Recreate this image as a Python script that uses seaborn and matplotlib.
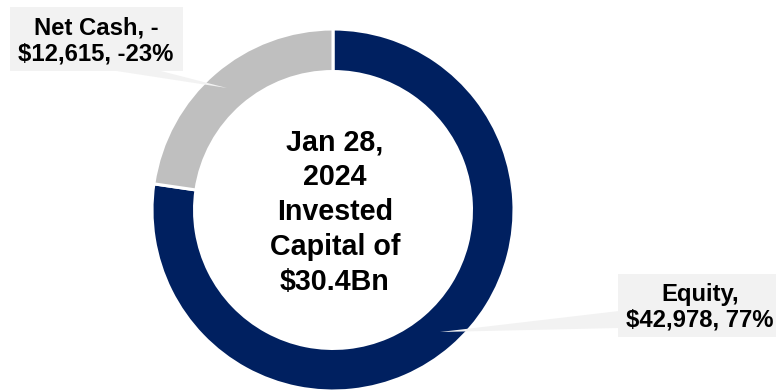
import matplotlib
matplotlib.use("Agg")
import matplotlib.pyplot as plt
from matplotlib.patches import Polygon
import seaborn as sns

# Invested capital components ($M)
categories = ["Equity", "Net Cash"]
values = [42978, -12615]
pct_labels = ["77%", "-23%"]
center_title = "Jan 28,\n2024\nInvested\nCapital of\n$30.4Bn"

navy = "#002060"
grey = "#BFBFBF"
box = "#F2F2F2"

sns.set_theme(style="white")
plt.rcParams["font.family"] = ["Liberation Sans", "DejaVu Sans"]
plt.rcParams["text.color"] = "black"

W, H, dpi = 776, 390, 100
fig = plt.figure(figsize=(W / dpi, H / dpi), dpi=dpi)
ax = fig.add_axes([0, 0, 1, 1])

# one data unit = ring radius in pixels
R = 181.0
cx, cy = 333.0, 210.0


def px(x, y):
    return ((x - cx) / R, (cy - y) / R)


sizes = [abs(v) for v in values]
ax.pie(sizes, colors=[navy, grey], startangle=90, counterclock=False,
       radius=1.0,
       wedgeprops=dict(width=0.235, edgecolor="white", linewidth=2.2))

ax.set_xlim(-cx / R, (W - cx) / R)
ax.set_ylim(-(H - cy) / R, cy / R)
ax.set_aspect("equal")
ax.axis("off")

ax.text(*px(335, 212), center_title, ha="center", va="center",
        fontsize=20.6, fontweight="bold", color="black", linespacing=1.31)


def money(v):
    return f"${abs(v):,}"


# Net Cash callout
nc_box = [10, 7, 183, 71]
ax.add_patch(Polygon([px(110, 70), px(157, 70), px(227, 88)],
                     closed=True, facecolor=box, edgecolor="none", zorder=3))
x0, y0 = px(nc_box[0], nc_box[3])
x1, y1 = px(nc_box[2], nc_box[1])
ax.add_patch(plt.Rectangle((x0, y0), x1 - x0, y1 - y0, facecolor=box,
                           edgecolor="none", zorder=3))
ax.text(*px(96, 41), f"{categories[1]}, -\n{money(values[1])}, {pct_labels[1]}",
        ha="center", va="center", fontsize=17.2, fontweight="bold",
        color="black", linespacing=1.12, zorder=4)

# Equity callout
eq_box = [618, 274, 790, 337]
ax.add_patch(Polygon([px(619, 311), px(619, 328), px(440, 332)],
                     closed=True, facecolor=box, edgecolor="none", zorder=3))
x0, y0 = px(eq_box[0], eq_box[3])
x1, y1 = px(eq_box[2], eq_box[1])
ax.add_patch(plt.Rectangle((x0, y0), x1 - x0, y1 - y0, facecolor=box,
                           edgecolor="none", zorder=3))
ax.text(*px(700, 307), f"{categories[0]},\n{money(values[0])}, {pct_labels[0]}",
        ha="center", va="center", fontsize=17.2, fontweight="bold",
        color="black", linespacing=1.12, zorder=4)

fig.savefig("out.png", dpi=dpi, facecolor="white")
